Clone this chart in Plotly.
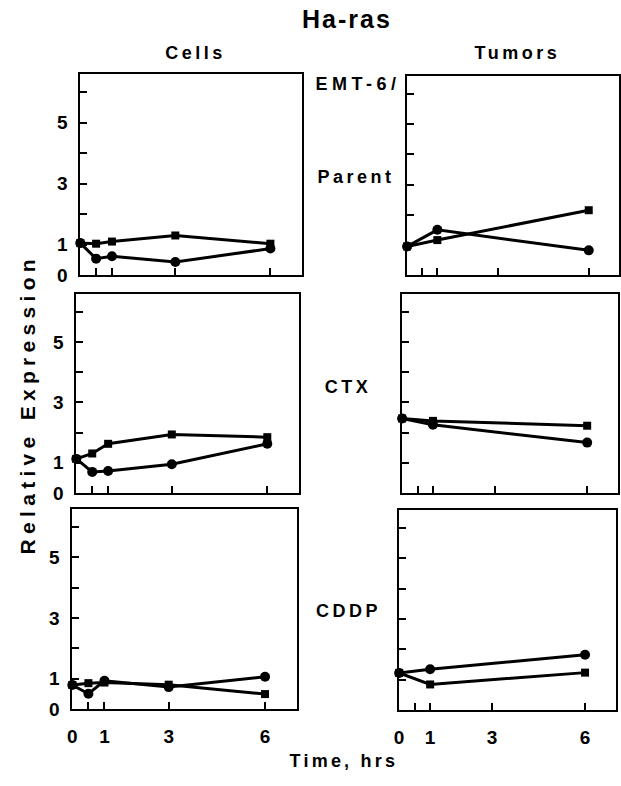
import json
import plotly.graph_objects as go
from plotly.subplots import make_subplots

# ---- data ----
cell_times = [0, 0.5, 1, 3, 6]
tumor_times = [0, 1, 6]

parent_cells_sq = [1.05, 1.03, 1.10, 1.30, 1.03]
parent_cells_ci = [1.05, 0.54, 0.62, 0.43, 0.87]
ctx_cells_sq = [1.13, 1.31, 1.63, 1.94, 1.85]
ctx_cells_ci = [1.13, 0.70, 0.73, 0.95, 1.63]
cddp_cells_sq = [0.79, 0.85, 0.87, 0.80, 0.49]
cddp_cells_ci = [0.79, 0.50, 0.93, 0.72, 1.06]

parent_tum_sq = [0.95, 1.16, 2.15]
parent_tum_ci = [0.95, 1.50, 0.82]
ctx_tum_sq = [2.47, 2.39, 2.23]
ctx_tum_ci = [2.47, 2.26, 1.67]
cddp_tum_sq = [1.22, 0.84, 1.23]
cddp_tum_ci = [1.22, 1.34, 1.82]

row_labels = ["EMT-6/", "Parent", "CTX", "CDDP"]
y_tickvals = [0, 1, 2, 3, 4, 5, 6]
y_ticktext = ["0", "1", "", "3", "", "5", ""]
x_tickvals = [0, 0.5, 1, 3, 6]
x_ticktext = ["0", "", "1", "3", "6"]

W, H = 621, 786
FONT = "Liberation Sans, Arial, Helvetica, sans-serif"

fig = make_subplots(rows=3, cols=2)

panels = [
    (1, 1, cell_times, parent_cells_sq, parent_cells_ci),
    (1, 2, tumor_times, parent_tum_sq, parent_tum_ci),
    (2, 1, cell_times, ctx_cells_sq, ctx_cells_ci),
    (2, 2, tumor_times, ctx_tum_sq, ctx_tum_ci),
    (3, 1, cell_times, cddp_cells_sq, cddp_cells_ci),
    (3, 2, tumor_times, cddp_tum_sq, cddp_tum_ci),
]

for r, c, t, sq, ci in panels:
    fig.add_trace(go.Scatter(x=t, y=sq, mode="lines+markers",
                             line=dict(color="black", width=3),
                             marker=dict(symbol="square", size=8, color="black"),
                             showlegend=False, cliponaxis=False), row=r, col=c)
    fig.add_trace(go.Scatter(x=t, y=ci, mode="lines+markers",
                             line=dict(color="black", width=3),
                             marker=dict(symbol="circle", size=10, color="black"),
                             showlegend=False, cliponaxis=False), row=r, col=c)

# panel boxes in pixels (left, right, top, bottom) – follow the slight skew of the scan
boxes = {
    (1, 1): (76, 300, 75, 279),
    (1, 2): (406, 620, 77, 279),
    (2, 1): (72, 297, 298, 500),
    (2, 2): (401, 619, 298, 500),
    (3, 1): (68, 295, 516, 719),
    (3, 2): (398, 617, 517, 720),
}

for (r, c), (l, rr, t, b) in boxes.items():
    fig.update_xaxes(domain=[l / W, rr / W], range=[0, 7], row=r, col=c,
                     showgrid=False, zeroline=False, showline=True,
                     linecolor="black", linewidth=2, mirror=True,
                     ticks="inside", ticklen=7, tickwidth=1.5, tickcolor="black",
                     tickvals=x_tickvals, ticktext=x_ticktext,
                     showticklabels=(r == 3), ticklabelstandoff=9,
                     tickfont=dict(family=FONT, size=19, color="black", weight="bold"))
    fig.update_yaxes(domain=[1 - b / H, 1 - t / H], range=[0, 6.6], row=r, col=c,
                     showgrid=False, zeroline=False, showline=True,
                     linecolor="black", linewidth=2, mirror=True,
                     ticks="inside", ticklen=7, tickwidth=1.5, tickcolor="black",
                     tickvals=y_tickvals, ticktext=y_ticktext,
                     showticklabels=(c == 1), ticklabelstandoff=7,
                     tickfont=dict(family=FONT, size=19, color="black", weight="bold"))

spacing = {}

def ann(text, x, y, size, ls, **kw):
    spacing[text] = ls
    fig.add_annotation(text=text, x=x / W, y=1 - y / H, xref="paper", yref="paper",
                       showarrow=False, xanchor="center", yanchor="middle",
                       font=dict(family=FONT, size=size, color="black", weight="bold"), **kw)

ann("Ha-ras", 345, 19, 25, 2)
ann("Cells", 192, 54, 18, 3.5)
ann("Tumors", 517, 54, 18, 3.5)
ann(row_labels[0], 356, 85, 18, 4.5)
ann(row_labels[1], 354, 180, 18, 3.5)
ann(row_labels[2], 346, 392, 18, 3.5)
ann(row_labels[3], 347, 620, 18, 3.5)
ann("Time, hrs", 342, 772, 18, 3.2)
ann("Relative Expression", 22, 410, 21, 5.3, textangle=-90)

fig.update_layout(width=W, height=H, margin=dict(l=0, r=0, t=0, b=0),
                  plot_bgcolor="white", paper_bgcolor="white", showlegend=False)

post = """
(function(){
  var sp = %s;
  function apply(){
    var gd = document.getElementById('{plot_id}');
    if(!gd) return;
    gd.querySelectorAll('.annotation-text').forEach(function(t){
      var s = sp[t.textContent];
      if(s !== undefined){ t.style.letterSpacing = s + 'px'; }
    });
  }
  apply();
  setTimeout(apply, 0);
  setTimeout(apply, 100);
})();
""" % json.dumps(spacing)

fig.write_html("out.html", post_script=post)
